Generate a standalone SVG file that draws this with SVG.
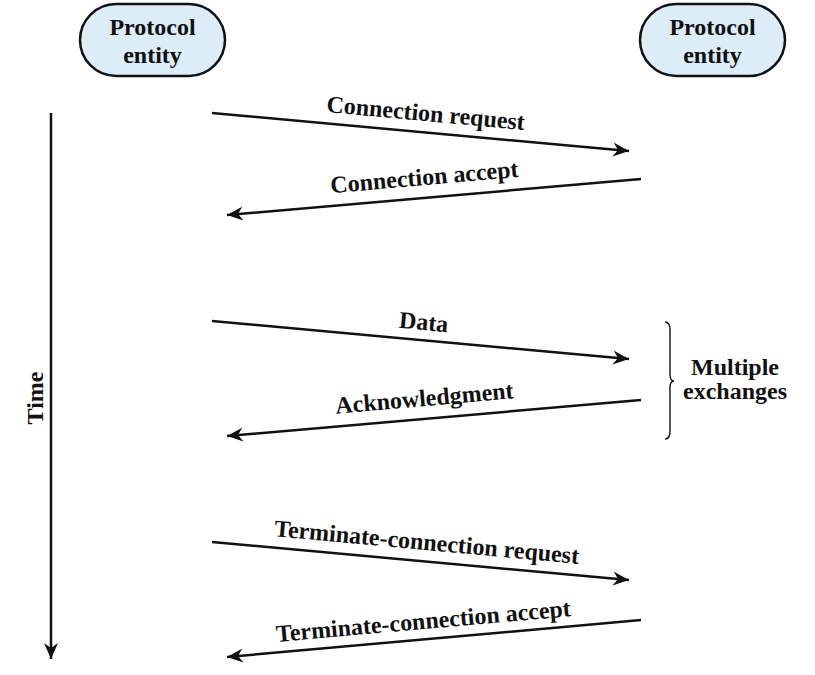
<svg xmlns="http://www.w3.org/2000/svg" width="815" height="675" viewBox="0 0 815 675">
<style>
text{font-family:"Liberation Serif","Times New Roman",serif;font-weight:bold;fill:#111;}
.ent{font-size:24px;text-anchor:middle;}
.lbl{font-size:24px;text-anchor:middle;}
.pill{fill:#dcedf8;stroke:#111;stroke-width:2.5;}
.msg{stroke:#111;stroke-width:2.5;fill:none;marker-end:url(#ah);}
</style>
<defs>
<marker id="ah" markerUnits="userSpaceOnUse" markerWidth="20" markerHeight="14" refX="16" refY="7" orient="auto">
<path d="M0,0 L16,7 L0,14 L5,7 Z" fill="#111"/>
</marker>
</defs>
<rect width="815" height="675" fill="#fff"/>
<g id="entity-left">
<rect class="pill" x="80" y="4" width="145" height="72" rx="36" ry="36"/>
<text class="ent" x="152.5" y="35">Protocol</text>
<text class="ent" x="152.5" y="63">entity</text>
</g>
<g id="entity-right">
<rect class="pill" x="640" y="4" width="145" height="72" rx="36" ry="36"/>
<text class="ent" x="712.5" y="35">Protocol</text>
<text class="ent" x="712.5" y="63">entity</text>
</g>
<g id="connectors">
<line class="msg" x1="51" y1="113" x2="51" y2="659"/>
<line class="msg" x1="212" y1="113" x2="629" y2="151"/>
<line class="msg" x1="641" y1="179" x2="227" y2="215"/>
<line class="msg" x1="212" y1="321" x2="629" y2="359"/>
<line class="msg" x1="641" y1="400" x2="227" y2="436"/>
<line class="msg" x1="212" y1="542" x2="629" y2="580"/>
<line class="msg" x1="641" y1="620" x2="227" y2="657"/>
<path d="M665,322 Q670,322 670,330 L670,374 Q670,381 674,381 Q670,381 670,388 L670,431 Q670,439 665,439" fill="none" stroke="#111" stroke-width="1.4"/>
</g>
<g id="labels">
<text class="lbl" transform="translate(43,398) rotate(-90)">Time</text>
<text class="lbl" transform="translate(425,121) rotate(5.2)">Connection request</text>
<text class="lbl" transform="translate(425,185) rotate(-5)">Connection accept</text>
<text class="lbl" transform="translate(423,330) rotate(5.2)">Data</text>
<text class="lbl" transform="translate(425,406) rotate(-5)">Acknowledgment</text>
<text class="lbl" transform="translate(426,550) rotate(5.2)">Terminate-connection request</text>
<text class="lbl" transform="translate(424,629) rotate(-5)">Terminate-connection accept</text>
<text class="lbl" x="735" y="375">Multiple</text>
<text class="lbl" x="735" y="399">exchanges</text>
</g>
</svg>
